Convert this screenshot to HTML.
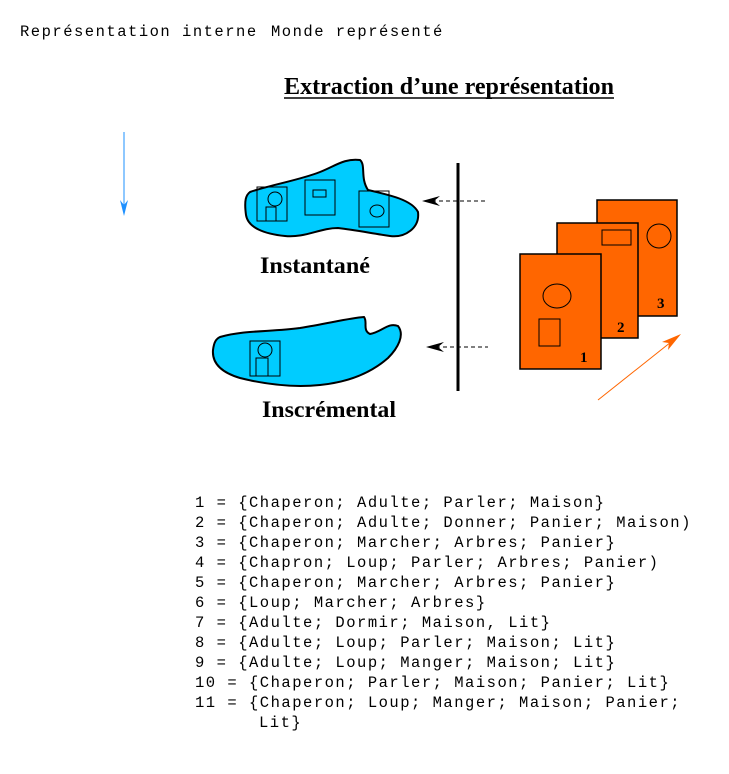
<!DOCTYPE html>
<html><head><meta charset="utf-8"><style>
html,body{margin:0;padding:0;background:#fff}
svg{display:block}
.m{font-family:"Liberation Mono",monospace;font-size:15.5px;letter-spacing:1.5px;fill:#000}
.b{font-family:"Liberation Serif",serif;font-weight:bold;fill:#000}
</style></head><body>
<svg width="729" height="774" viewBox="0 0 729 774" xmlns="http://www.w3.org/2000/svg">
<text class="m" x="20" y="36">Représentation interne</text>
<text class="m" x="271" y="36">Monde représenté</text>
<text class="b" x="284" y="94" font-size="24" textLength="330" lengthAdjust="spacingAndGlyphs">Extraction d’une représentation</text>
<line x1="284" y1="98" x2="614" y2="98" stroke="#000" stroke-width="1.5"/>
<line x1="124" y1="132" x2="124" y2="212" stroke="#1e90ff" stroke-width="1"/>
<path d="M120,200 L124,216 L128,200 L124,205 Z" fill="#1e90ff"/>
<path d="M250,192 C270,185 300,180 320,172 C335,166 345,158 360,160 C366,165 360,178 368,190 C390,195 412,200 418,212 C420,228 405,238 390,236 C370,233 355,230 338,228 C320,228 305,238 285,236 C265,234 248,228 246,215 C244,200 246,195 250,192 Z" fill="#00ccff" stroke="#000" stroke-width="2"/>
<rect x="257" y="187" width="30" height="34" fill="none" stroke="#000"/>
<circle cx="275" cy="199" r="7" fill="none" stroke="#000"/>
<rect x="266" y="207" width="10" height="14" fill="none" stroke="#000"/>
<rect x="305" y="180" width="30" height="35" fill="none" stroke="#000"/>
<rect x="313" y="190" width="13" height="7" fill="none" stroke="#000"/>
<rect x="359" y="191" width="30" height="36" fill="none" stroke="#000"/>
<ellipse cx="377" cy="211" rx="7" ry="6" fill="none" stroke="#000"/>
<text class="b" x="260" y="273" font-size="23" textLength="110" lengthAdjust="spacingAndGlyphs">Instantané</text>
<path d="M220,337 C245,330 270,332 300,328 C330,323 350,318 364,317 C368,322 362,330 370,334 C382,332 388,322 398,326 C405,335 398,348 388,358 C372,372 350,382 320,385 C290,388 260,383 240,378 C220,372 212,362 213,350 C214,342 216,339 220,337 Z" fill="#00ccff" stroke="#000" stroke-width="2"/>
<rect x="250" y="341" width="30" height="35" fill="none" stroke="#000"/>
<circle cx="265" cy="350" r="7" fill="none" stroke="#000"/>
<rect x="256" y="358" width="12" height="18" fill="none" stroke="#000"/>
<text class="b" x="262" y="417" font-size="23" textLength="134" lengthAdjust="spacingAndGlyphs">Inscrémental</text>
<line x1="458" y1="163" x2="458" y2="391" stroke="#000" stroke-width="3"/>
<line x1="432" y1="201" x2="488" y2="201" stroke="#000" stroke-dasharray="4,3"/>
<path d="M422,201 L440,196 L434,201 L440,206 Z" fill="#000"/>
<line x1="436" y1="347" x2="488" y2="347" stroke="#000" stroke-dasharray="4,3"/>
<path d="M426,347 L444,342 L438,347 L444,352 Z" fill="#000"/>
<rect x="597" y="200" width="80" height="116" fill="#ff6600" stroke="#000" stroke-width="1.5"/>
<circle cx="659" cy="236" r="12" fill="none" stroke="#000"/>
<text class="b" x="657" y="308" font-size="15">3</text>
<rect x="557" y="223" width="81" height="115" fill="#ff6600" stroke="#000" stroke-width="1.5"/>
<rect x="602" y="230" width="29" height="15" fill="none" stroke="#000"/>
<text class="b" x="617" y="332" font-size="15">2</text>
<rect x="520" y="254" width="81" height="115" fill="#ff6600" stroke="#000" stroke-width="1.5"/>
<ellipse cx="557" cy="296" rx="14" ry="12" fill="none" stroke="#000"/>
<rect x="539" y="319" width="21" height="27" fill="none" stroke="#000"/>
<text class="b" x="580" y="362" font-size="15">1</text>
<line x1="598" y1="400" x2="676" y2="338" stroke="#ff6600" stroke-width="1"/>
<path d="M681,334 L662,342 L669,343 L668,350 Z" fill="#ff6600"/>
<g class="m">
<text x="195" y="507">1 = {Chaperon; Adulte; Parler; Maison}</text>
<text x="195" y="527">2 = {Chaperon; Adulte; Donner; Panier; Maison)</text>
<text x="195" y="547">3 = {Chaperon; Marcher; Arbres; Panier}</text>
<text x="195" y="567">4 = {Chapron; Loup; Parler; Arbres; Panier)</text>
<text x="195" y="587">5 = {Chaperon; Marcher; Arbres; Panier}</text>
<text x="195" y="607">6 = {Loup; Marcher; Arbres}</text>
<text x="195" y="627">7 = {Adulte; Dormir; Maison, Lit}</text>
<text x="195" y="647">8 = {Adulte; Loup; Parler; Maison; Lit}</text>
<text x="195" y="667">9 = {Adulte; Loup; Manger; Maison; Lit}</text>
<text x="195" y="687">10 = {Chaperon; Parler; Maison; Panier; Lit}</text>
<text x="195" y="707">11 = {Chaperon; Loup; Manger; Maison; Panier;</text>
<text x="259" y="727">Lit}</text>
</g>
</svg>
</body></html>
